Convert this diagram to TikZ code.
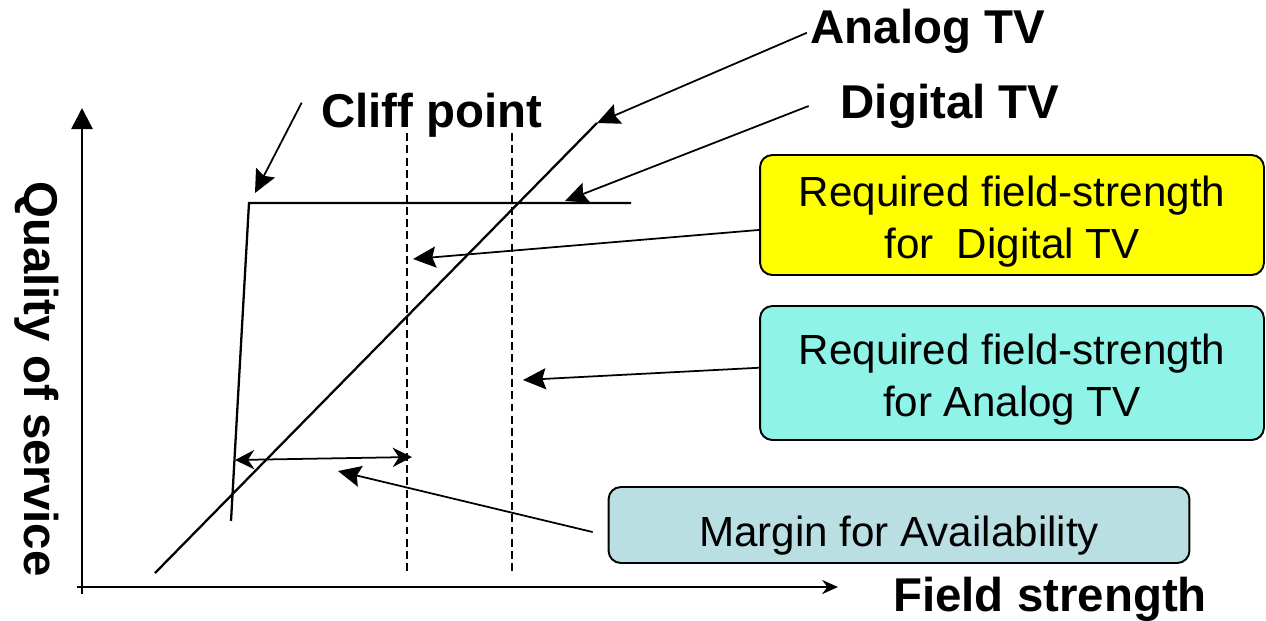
\documentclass[tikz,border=0pt]{standalone}
\usepackage{fontspec}
\setmainfont{Liberation Sans}
\usetikzlibrary{arrows.meta}
\definecolor{digitalFill}{RGB}{255,255,0}
\definecolor{analogFill}{RGB}{143,243,232}
\definecolor{marginFill}{RGB}{186,223,227}
% lowers the first line of a box text
\newcommand\boxstrut[1]{\rule{0pt}{#1}}

\begin{document}
\begin{tikzpicture}
[x=0.02cm,y=-0.02cm,
  axisDecorate/.style={line width=1.5pt},
  curveDecorate/.style={line width=1.3pt},
  levelDecorate/.style={line width=0.75pt,dash pattern=on 4.5pt off 2.5pt},
  arrowDecorate/.style={line width=1pt,-{Stealth[length=13pt,width=12pt,inset=2pt]}},
  titleDecorate/.style={inner sep=0pt,font=\fontsize{27}{32}\selectfont\bfseries},
  boxDecorate/.style={draw,line width=1.1pt,rounded corners=7pt,inner sep=0pt,
    align=center,font=\fontsize{24}{30}\selectfont}]
\useasboundingbox (0,0) rectangle (1266,620);
%% points on the curves
\foreach \pointname/\x/\y in {
  origin/82/587, yTop/82/108, xEnd/838/587,
  analogLow/155/573, analogHigh/597/123,
  cliffFoot/231/521, cliffKnee/249/203, digitalEnd/631/203,
  digitalLevel/407/133, analogLevel/512/133,
  cliffHit/255/193, digitalHit/565/201,
  digitalMark/413/259, analogMark/523/380, marginMark/338/471,
  marginLeft/235/460, marginRight/412/457}
{
  \coordinate (\pointname) at (\x,\y);
}
%% axes
\draw[axisDecorate,-{Triangle[length=12pt,width=12pt]}] ([yshift=-4pt]origin) -- (yTop);
\draw[axisDecorate,-{Stealth[length=9pt,width=8pt]}] ([xshift=-3pt]origin) -- (xEnd);
%% quality curves and required levels
\draw[curveDecorate] (analogLow) -- (analogHigh);
\draw[curveDecorate] (cliffFoot) -- (cliffKnee) -- (digitalEnd);
\draw[levelDecorate] (digitalLevel) -- ++(0,440);
\draw[levelDecorate] (analogLevel) -- ++(0,440);
\draw[line width=1pt,{Stealth[length=11pt,width=11pt]}-{Stealth[length=11pt,width=11pt]}]
  (marginLeft) -- (marginRight);
%% labels
\node[titleDecorate] (analog) at (928,31) {Analog TV};
\node[titleDecorate] (digital) at (950,106) {Digital TV};
\node[titleDecorate] (cliff) at (432,115) {Cliff point};
\node[titleDecorate] (field) at (1050,599) {Field strength};
\node[titleDecorate,rotate=-90] (quality) at (37,379) {Quality of service};
\draw[arrowDecorate] ([shift={(-2pt,-1pt)}]analog.west) -- (analogHigh);
\draw[arrowDecorate] ([xshift=-18pt]digital.west) -- (digitalHit);
\draw[arrowDecorate] ([shift={(-11pt,7pt)}]cliff.west) -- (cliffHit);
%% boxes
\node[boxDecorate,fill=digitalFill,minimum width=10.08cm,minimum height=2.4cm]
  (digitalBox) at (1012,215) {\boxstrut{25pt}Required field-strength\\for\ \ Digital TV};
\node[boxDecorate,fill=analogFill,minimum width=10.08cm,minimum height=2.68cm]
  (analogBox) at (1012,373) {\boxstrut{25pt}Required field-strength\\for Analog TV};
\node[boxDecorate,fill=marginFill,minimum width=11.62cm,minimum height=1.52cm]
  (marginBox) at (899,525) {\boxstrut{29pt}Margin for Availability};
\draw[arrowDecorate] ([yshift=-8.5pt]digitalBox.west) -- (digitalMark);
\draw[arrowDecorate] ([yshift=3pt]analogBox.west) -- (analogMark);
\draw[arrowDecorate] ([shift={(-8.5pt,-4pt)}]marginBox.west) -- (marginMark);
\end{tikzpicture}
\end{document}
